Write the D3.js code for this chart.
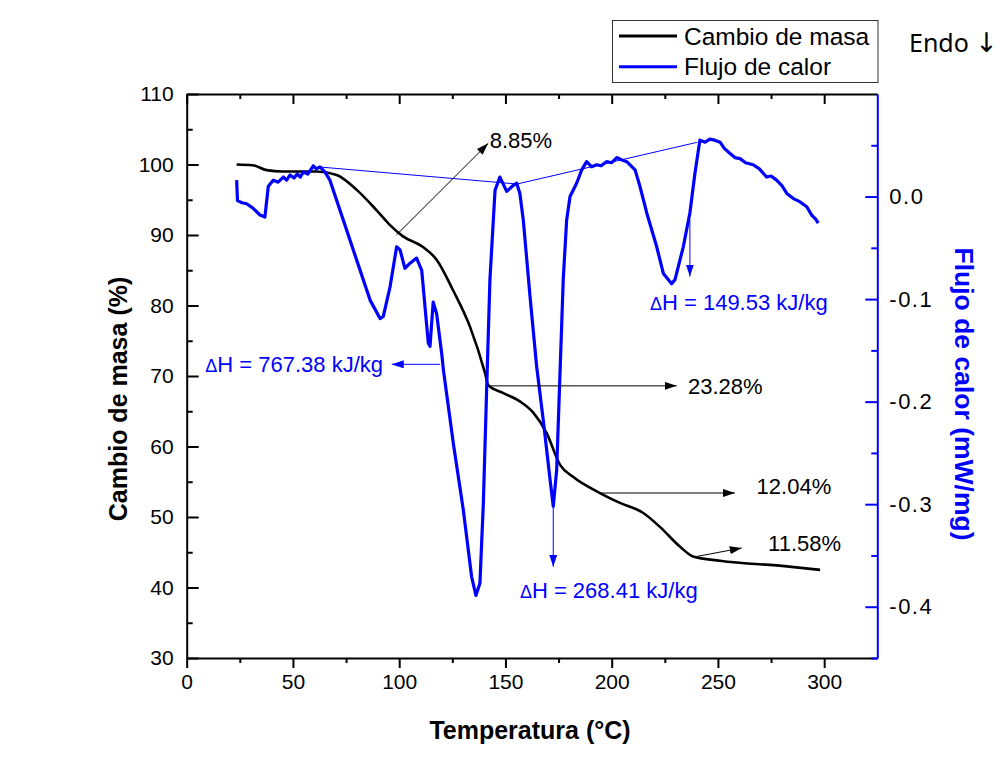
<!DOCTYPE html>
<html>
<head>
<meta charset="utf-8">
<script src="https://cdn.jsdelivr.net/npm/d3@7"></script>
<style>
  html, body { margin: 0; padding: 0; background: #ffffff; }
  svg { display: block; font-family: "Liberation Sans", Arial, sans-serif; }
</style>
</head>
<body>
<svg id="chart" width="1004" height="779"></svg>
<script>
// ---------------- DATA ----------------
// TG curve: temperature (°C) and mass change (%)
const tgTemp = [23.5, 31, 37.6, 45, 61.2, 70.6, 80, 89.4, 95.7, 101.8, 111.2, 117.6, 125.3, 133.3, 140.4, 141.9, 148.8, 156.8, 163.1, 169.4, 175.7, 181.8, 194.5, 203.9, 214.7, 222.7, 232.1, 238.3, 251, 282.4, 298.1];
const tgMass = [100.0, 99.9, 99.2, 99.0, 99.0, 98.5, 96.4, 93.5, 91.4, 89.8, 88.3, 86.5, 82.2, 77.0, 70.4, 68.7, 67.6, 66.4, 64.8, 61.9, 57.4, 55.7, 53.4, 52.0, 50.6, 48.6, 45.8, 44.4, 43.8, 43.0, 42.5];

// DSC curve: temperature (°C) and heat flow (mW/mg)
const dscTemp = [23.5, 23.9, 26, 28.2, 31, 34.5, 36.8, 38.4, 40.8, 43, 45.5, 47, 48.6, 50.5, 52, 53.5, 54.9, 57, 59.6, 61, 62.7, 65, 67.4, 73.7, 80, 86.3, 91, 92.5, 95.7, 98.8, 100.4, 102.7, 105.1, 108.2, 110.6, 113.7, 114.5, 116, 117.6, 120, 120.8, 125.5, 130.2, 134.1, 136.1, 138, 139.6, 141.2, 142.7, 145.1, 147.4, 150.6, 153.7, 155.3, 156.8, 158.4, 161.6, 164.7, 167.8, 171, 172.5, 174.1, 175.7, 177.2, 178.8, 180.4, 183.5, 185.9, 188.2, 190.6, 192.9, 195, 197.6, 200, 202.4, 204.5, 207.1, 211, 213.3, 216.5, 221.2, 224.3, 228.2, 229.8, 233.7, 236.8, 239.2, 241.5, 244, 246.2, 248.5, 251, 253, 255.7, 258, 260.4, 263, 266.6, 269.5, 272.9, 275, 277.6, 280, 282.4, 285.5, 288.5, 291.8, 294.1, 296, 297.2];
const dscFlow = [0.016, -0.004, -0.006, -0.007, -0.011, -0.018, -0.020, 0.010, 0.016, 0.014, 0.019, 0.016, 0.021, 0.018, 0.022, 0.019, 0.024, 0.022, 0.030, 0.027, 0.029, 0.024, 0.016, -0.023, -0.062, -0.101, -0.119, -0.117, -0.088, -0.049, -0.052, -0.070, -0.065, -0.060, -0.072, -0.143, -0.146, -0.103, -0.114, -0.153, -0.169, -0.241, -0.306, -0.371, -0.389, -0.377, -0.299, -0.185, -0.081, 0.006, 0.019, 0.005, 0.011, 0.013, 0.003, -0.023, -0.098, -0.166, -0.218, -0.276, -0.302, -0.267, -0.171, -0.081, -0.023, 0.000, 0.013, 0.026, 0.034, 0.029, 0.031, 0.030, 0.034, 0.033, 0.038, 0.036, 0.034, 0.026, 0.010, -0.016, -0.049, -0.075, -0.085, -0.081, -0.049, -0.016, 0.023, 0.055, 0.053, 0.056, 0.055, 0.053, 0.047, 0.042, 0.038, 0.037, 0.033, 0.031, 0.027, 0.019, 0.020, 0.016, 0.011, 0.003, -0.002, -0.005, -0.010, -0.018, -0.022, -0.026];

// Baseline construction line on the DSC curve (temperature, heat flow)
const baseTemp = [62.7, 155.4, 240.2];
const baseFlow = [0.0288, 0.0122, 0.0529];

// Mass-loss annotations: arrow start/end (°C, %), label anchor
const massLabels = ["8.85%", "23.28%", "12.04%", "11.58%"];
const massArrowT0 = [98.7, 142.7, 194.5, 240.0];
const massArrowM0 = [90.0, 68.6, 53.4, 44.4];
const massArrowT1 = [141.9, 230.6, 258.0, 261.2];
const massArrowM1 = [103.0, 68.6, 53.4, 45.6];
const massLabelT = [142.6, 235.9, 268.2, 273.6];
const massLabelM = [103.4, 68.5, 54.4, 46.3];

// Enthalpy annotations: arrow start/end (°C, mW/mg), label anchor
const dhValues = ["767.38", "268.41", "149.53"];
const dhArrowT0 = [119.2, 172.5, 236.8];
const dhArrowF0 = [-0.1636, -0.302, -0.023];
const dhArrowT1 = [96.5, 172.5, 236.8];
const dhArrowF1 = [-0.1636, -0.361, -0.078];
const dhLabelT = [92.4, 156.8, 218.0];
const dhLabelF = [-0.164, -0.384, -0.103];
const dhAnchor = ["end", "start", "start"];

// Axis ticks
const xTicks = [0, 50, 100, 150, 200, 250, 300];
const xMinor = [25, 75, 125, 175, 225, 275];
const yLTicks = [30, 40, 50, 60, 70, 80, 90, 100, 110];
const yLMinor = [35, 45, 55, 65, 75, 85, 95, 105];
const yRTicks = [-0.4, -0.3, -0.2, -0.1, 0.0];
const yRMinor = [-0.45, -0.35, -0.25, -0.15, -0.05, 0.05];

const seriesNames = ["Cambio de masa", "Flujo de calor"];
const seriesColors = ["#000000", "#0000ff"];

// ---------------- CHART ----------------
const svg = d3.select("#chart");
const L = 186.7, R = 877.3, T = 94, B = 658;
const x = d3.scaleLinear().domain([0, 325]).range([L, R]);
const yL = d3.scaleLinear().domain([30, 110]).range([B, T]);
const yR = d3.scaleLinear().domain([-0.45, 0.1]).range([B, T]);

svg.append("defs").selectAll("marker")
  .data([["arrK", "#000000"], ["arrB", "#0000ff"]])
  .join("marker")
  .attr("id", d => d[0])
  .attr("viewBox", "0 0 12 8")
  .attr("refX", 12).attr("refY", 4)
  .attr("markerWidth", 12).attr("markerHeight", 8)
  .attr("markerUnits", "userSpaceOnUse")
  .attr("orient", "auto")
  .append("path").attr("d", "M0,0 L12,4 L0,8 Z").attr("fill", d => d[1]);

function styleAxis(g, color) {
  g.selectAll(".domain").attr("stroke", color).attr("stroke-width", 2);
  g.selectAll(".tick line").attr("stroke", color).attr("stroke-width", 2);
  g.selectAll(".tick text").attr("fill", "#000").attr("font-size", 21)
    .attr("font-family", "Liberation Sans, Arial, sans-serif");
}

// bottom axis
const gB = svg.append("g").attr("transform", `translate(0,${B})`)
  .call(d3.axisBottom(x).tickValues(xTicks).tickSize(10).tickSizeOuter(0).tickPadding(6).tickFormat(d3.format("d")));
styleAxis(gB, "#000");
svg.append("g").attr("transform", `translate(0,${B})`)
  .call(d3.axisBottom(x).tickValues(xMinor).tickSize(5).tickFormat(""))
  .call(g => { g.select(".domain").remove(); styleAxis(g, "#000"); });

// top axis
const gT = svg.append("g").attr("transform", `translate(0,${T})`)
  .call(d3.axisTop(x).tickValues(xTicks).tickSize(-10).tickSizeOuter(0).tickFormat(""));
styleAxis(gT, "#000");
svg.append("g").attr("transform", `translate(0,${T})`)
  .call(d3.axisTop(x).tickValues(xMinor).tickSize(-5).tickFormat(""))
  .call(g => { g.select(".domain").remove(); styleAxis(g, "#000"); });

// left axis
const gL = svg.append("g").attr("transform", `translate(${L},0)`)
  .call(d3.axisLeft(yL).tickValues(yLTicks).tickSize(-12).tickSizeOuter(0).tickPadding(13).tickFormat(d3.format("d")));
styleAxis(gL, "#000");
svg.append("g").attr("transform", `translate(${L},0)`)
  .call(d3.axisLeft(yL).tickValues(yLMinor).tickSize(-6).tickFormat(""))
  .call(g => { g.select(".domain").remove(); styleAxis(g, "#000"); });

// right axis
const gR = svg.append("g").attr("transform", `translate(${R},0)`)
  .call(d3.axisRight(yR).tickValues(yRTicks).tickSize(-12).tickSizeOuter(0).tickPadding(12).tickFormat(d3.format(".1f")));
styleAxis(gR, "#0000ff");
gR.selectAll(".tick text").text(d => d3.format(".1f")(d).replace("−", "-"))
  .attr("font-size", 22).attr("letter-spacing", 1.5);
svg.append("g").attr("transform", `translate(${R},0)`)
  .call(d3.axisRight(yR).tickValues(yRMinor).tickSize(-6).tickFormat(""))
  .call(g => { g.select(".domain").remove(); styleAxis(g, "#0000ff"); });

// baseline
svg.append("path")
  .datum(baseTemp.map((t, i) => [t, baseFlow[i]]))
  .attr("fill", "none").attr("stroke", "#0000ff").attr("stroke-width", 1)
  .attr("d", d3.line().x(d => x(d[0])).y(d => yR(d[1])));

// TG curve
svg.append("path")
  .datum(tgTemp.map((t, i) => [t, tgMass[i]]))
  .attr("fill", "none").attr("stroke", seriesColors[0]).attr("stroke-width", 2.6)
  .attr("stroke-linejoin", "round")
  .attr("d", d3.line().x(d => x(d[0])).y(d => yL(d[1])).curve(d3.curveMonotoneX));

// DSC curve
svg.append("path")
  .datum(dscTemp.map((t, i) => [t, dscFlow[i]]))
  .attr("fill", "none").attr("stroke", seriesColors[1]).attr("stroke-width", 3.2)
  .attr("stroke-linejoin", "round")
  .attr("d", d3.line().x(d => x(d[0])).y(d => yR(d[1])));

// mass annotations
massLabels.forEach((lab, i) => {
  svg.append("line")
    .attr("x1", x(massArrowT0[i])).attr("y1", yL(massArrowM0[i]))
    .attr("x2", x(massArrowT1[i])).attr("y2", yL(massArrowM1[i]))
    .attr("stroke", "#000").attr("stroke-width", 1)
    .attr("marker-end", "url(#arrK)");
  svg.append("text")
    .attr("x", x(massLabelT[i])).attr("y", yL(massLabelM[i]))
    .attr("dy", "0.35em").attr("font-size", 22).attr("fill", "#000")
    .text(lab);
});

// enthalpy annotations
dhValues.forEach((v, i) => {
  svg.append("line")
    .attr("x1", x(dhArrowT0[i])).attr("y1", yR(dhArrowF0[i]))
    .attr("x2", x(dhArrowT1[i])).attr("y2", yR(dhArrowF1[i]))
    .attr("stroke", "#0000ff").attr("stroke-width", 1)
    .attr("marker-end", "url(#arrB)");
  const t = svg.append("text")
    .attr("x", x(dhLabelT[i])).attr("y", yR(dhLabelF[i]))
    .attr("dy", "0.35em").attr("font-size", 22).attr("fill", "#0000ff")
    .attr("text-anchor", dhAnchor[i]);
  t.append("tspan").attr("font-size", 18).text("Δ");
  t.append("tspan").text("H = " + v + " kJ/kg");
});

// axis titles
svg.append("text")
  .attr("x", (L + R) / 2 - 2).attr("y", 739)
  .attr("text-anchor", "middle").attr("font-size", 25).attr("font-weight", "bold")
  .text("Temperatura (°C)");
svg.append("text")
  .attr("transform", `translate(127,${(T + B) / 2 + 23}) rotate(-90)`)
  .attr("text-anchor", "middle").attr("font-size", 25).attr("font-weight", "bold")
  .text("Cambio de masa (%)");
svg.append("text")
  .attr("transform", `translate(955,394) rotate(90)`)
  .attr("text-anchor", "middle").attr("font-size", 26.5).attr("font-weight", "bold")
  .attr("fill", "#0000ff")
  .text("Flujo de calor (mW/mg)");

// legend
const lg = svg.append("g");
lg.append("rect").attr("x", 612.5).attr("y", 20.5).attr("width", 265.5).attr("height", 62)
  .attr("fill", "#fff").attr("stroke", "#333").attr("stroke-width", 1);
seriesNames.forEach((n, i) => {
  const yy = 36 + i * 30.7;
  lg.append("line").attr("x1", 619).attr("x2", 677).attr("y1", yy).attr("y2", yy)
    .attr("stroke", seriesColors[i]).attr("stroke-width", 3);
  lg.append("text").attr("x", 684).attr("y", yy).attr("dy", "0.35em")
    .attr("font-size", 24.5).attr("fill", "#000").text(n);
});

const endo = svg.append("text").attr("x", 909).attr("y", 52)
  .attr("font-family", "Noto Sans, Open Sans, sans-serif").attr("font-size", 25)
  .attr("fill", "#000");
endo.append("tspan").text("Endo ");
endo.append("tspan").attr("font-family", "DejaVu Sans, sans-serif").attr("font-size", 27).text("↓");
</script>
</body>
</html>
